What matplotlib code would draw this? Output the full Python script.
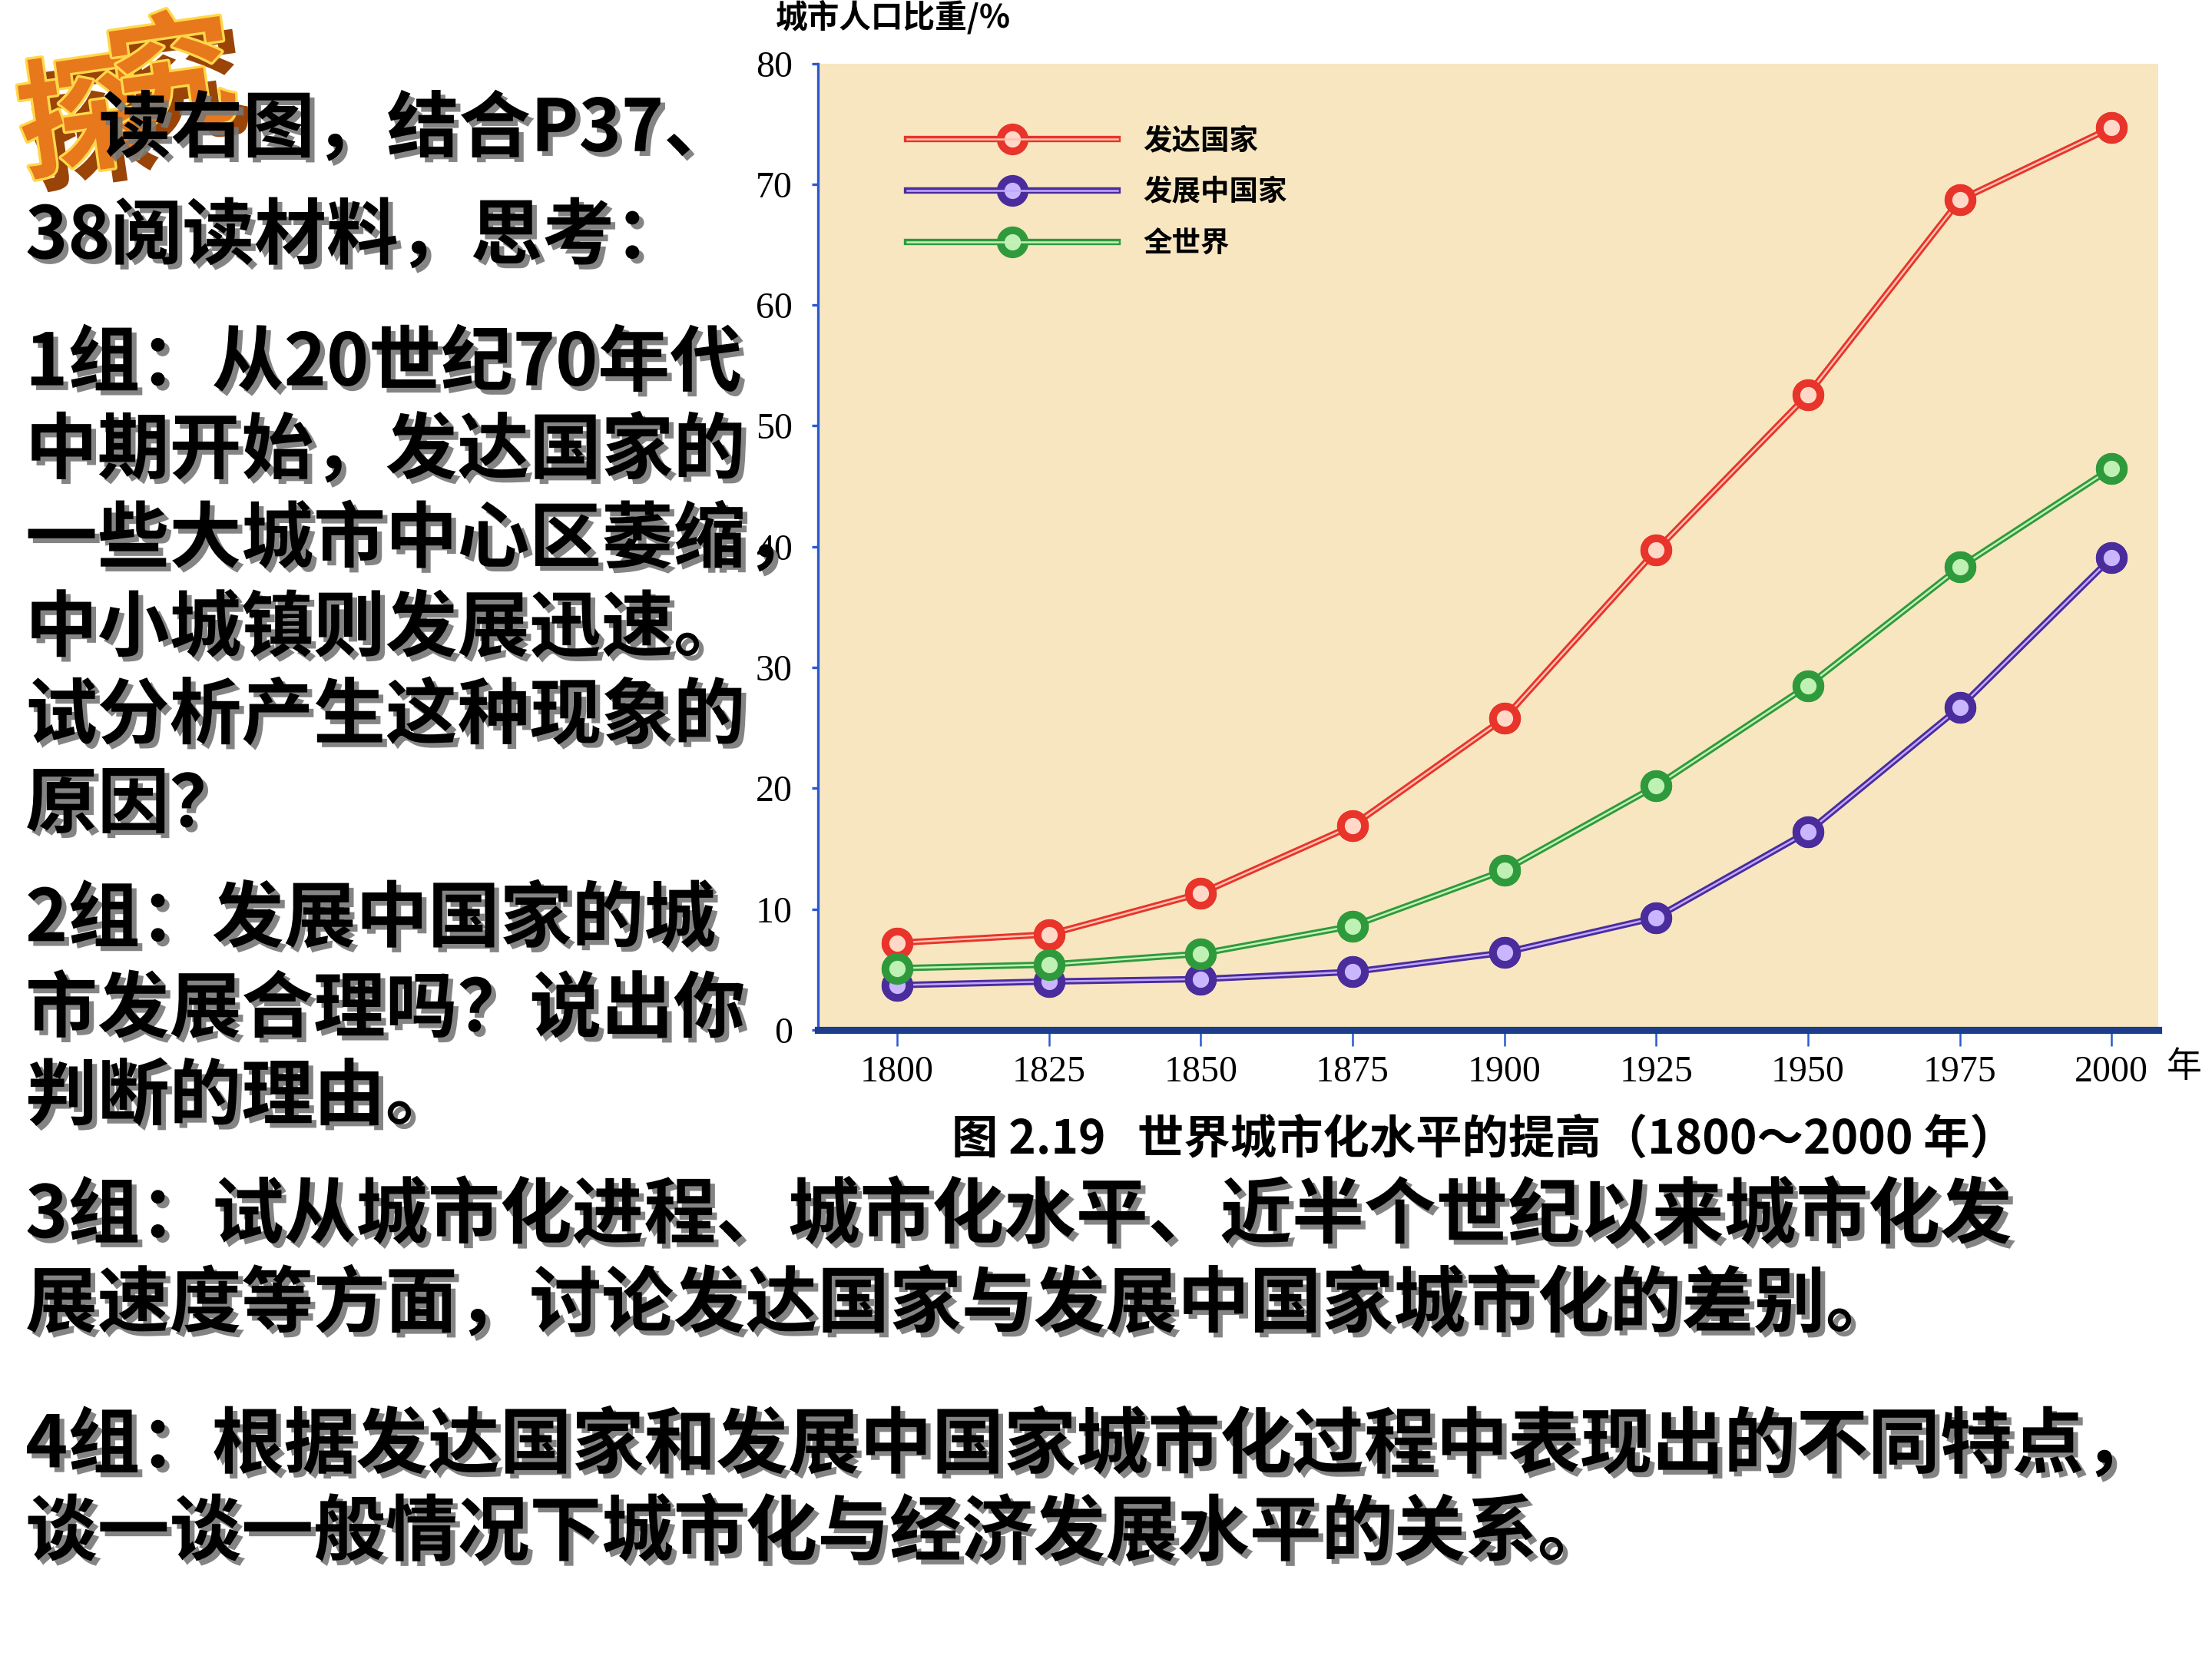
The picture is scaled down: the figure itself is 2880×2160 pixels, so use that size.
import matplotlib
matplotlib.use("Agg")
import matplotlib.pyplot as plt
import matplotlib.patheffects as pe

plt.rcParams['font.family'] = ['Noto Sans CJK SC', 'DejaVu Sans']

# data
years = [1800, 1825, 1850, 1875, 1900, 1925, 1950, 1975, 2000]
developed = [7.2, 7.9, 11.3, 16.9, 25.8, 39.7, 52.6, 68.7, 74.7]
developing = [3.7, 4.0, 4.2, 4.8, 6.4, 9.3, 16.4, 26.7, 39.1]
world = [5.1, 5.4, 6.3, 8.6, 13.2, 20.2, 28.5, 38.3, 46.5]
series_names = ['发达国家', '发展中国家', '全世界']
yticks = [0, 10, 20, 30, 40, 50, 60, 70, 80]

# slide text: (x px, y px, text) in a 1568x1176 grid
slide_lines = [
    (70, 92, "读右图，结合P37、"),
    (18, 168, "38阅读材料，思考："),
    (18, 258, "1组：从20世纪70年代"),
    (18, 320, "中期开始，发达国家的"),
    (18, 383, "一些大城市中心区萎缩，"),
    (18, 446, "中小城镇则发展迅速。"),
    (18, 508, "试分析产生这种现象的"),
    (18, 571, "原因？"),
    (18, 652, "2组：发展中国家的城"),
    (18, 716, "市发展合理吗？说出你"),
    (18, 778, "判断的理由。"),
    (18, 862, "3组：试从城市化进程、城市化水平、近半个世纪以来城市化发"),
    (18, 925, "展速度等方面，讨论发达国家与发展中国家城市化的差别。"),
    (18, 1025, "4组：根据发达国家和发展中国家城市化过程中表现出的不同特点，"),
    (18, 1087, "谈一谈一般情况下城市化与经济发展水平的关系。"),
]

W, H = 1568.0, 1176.0

fig = plt.figure(figsize=(9.6, 7.2), dpi=300)
fig.patch.set_facecolor('white')

# "探究" badge, one character at a time
badge_fx = [pe.SimplePatchShadow(offset=(4, -4), shadow_rgbFace='#9a4408', alpha=1.0),
            pe.withStroke(linewidth=1.6, foreground='#ffd84a')]
fig.text(58 / W, 1 - 88 / H, "探", fontsize=40, fontweight='bold', color='#e8781c',
         rotation=8, ha='center', va='center', zorder=1, path_effects=badge_fx)
fig.text(122 / W, 1 - 58 / H, "究", fontsize=40, fontweight='bold', color='#e8781c',
         rotation=8, ha='center', va='center', zorder=1, path_effects=badge_fx)

shadow = [pe.SimplePatchShadow(offset=(1.5, -1.5), shadow_rgbFace='#777777', alpha=0.9), pe.Normal()]
for x, y, s in slide_lines:
    fig.text(x / W, 1 - y / H, s, fontsize=22.5, fontweight='bold', color='black',
             ha='left', va='center', zorder=3, path_effects=shadow)

ax = fig.add_axes([580 / W, 1 - 730 / H, 950 / W, 685 / H])
ax.set_facecolor('#f7e6c0')

styles = [
    ('#e8342a', '#ffc2b0', '#ffd8c8'),
    ('#4a2c9c', '#c0a8ff', '#c9b6ff'),
    ('#2f9a3c', '#c4f2b8', '#bff0b4'),
]
handles = []
for vals, name, (c, inner, face) in zip([developed, developing, world], series_names, styles):
    outer_line, = ax.plot(years, vals, color=c, lw=2.0, zorder=3,
                          marker='o', ms=7.5, mfc=face, mec=c, mew=2.4)
    inner_line, = ax.plot(years, vals, color=inner, lw=0.6, zorder=4)
    ax.plot(years, vals, ls='none', marker='o', ms=7.5, mfc=face, mec=c, mew=2.4, zorder=5)
    handles.append((outer_line, inner_line))

ax.set_xlim(1787, 2007.7)
ax.set_ylim(0, 80)
ax.set_xticks(years)
ax.set_yticks(yticks)
ax.set_xticklabels([str(y) for y in years], fontfamily='Liberation Serif', fontsize=11.5)
ax.set_yticklabels([str(v) for v in yticks], fontfamily='Liberation Serif', fontsize=11.5)

for side in ['top', 'right']:
    ax.spines[side].set_visible(False)
ax.spines['bottom'].set_color('#1c3c8c')
ax.spines['bottom'].set_linewidth(2.2)
ax.spines['left'].set_color('#2a5ad0')
ax.spines['left'].set_linewidth(0.8)
ax.tick_params(axis='x', direction='out', length=5, width=0.6, color='#2a5ad0', pad=3)
ax.tick_params(axis='y', direction='out', length=2, width=0.8, color='#2a5ad0', pad=6)

leg = ax.legend(handles, series_names, loc='center left', bbox_to_anchor=(63 / 950, 0.867),
                frameon=False, handlelength=7.3, handletextpad=0.9, labelspacing=0.75,
                borderpad=0, borderaxespad=0, prop={'size': 9, 'weight': 'bold'})

fig.text(550 / W, 1 - 12 / H, "城市人口比重/%", fontsize=10, fontweight='bold', ha='left', va='center')
fig.text(1548 / W, 1 - 756 / H, "年", fontsize=11, ha='center', va='center')
fig.text(1052 / W, 1 - 808 / H, "图 2.19   世界城市化水平的提高（1800～2000 年）",
         fontsize=14.5, fontweight='bold', ha='center', va='center')

fig.savefig("out.png", dpi=300)
